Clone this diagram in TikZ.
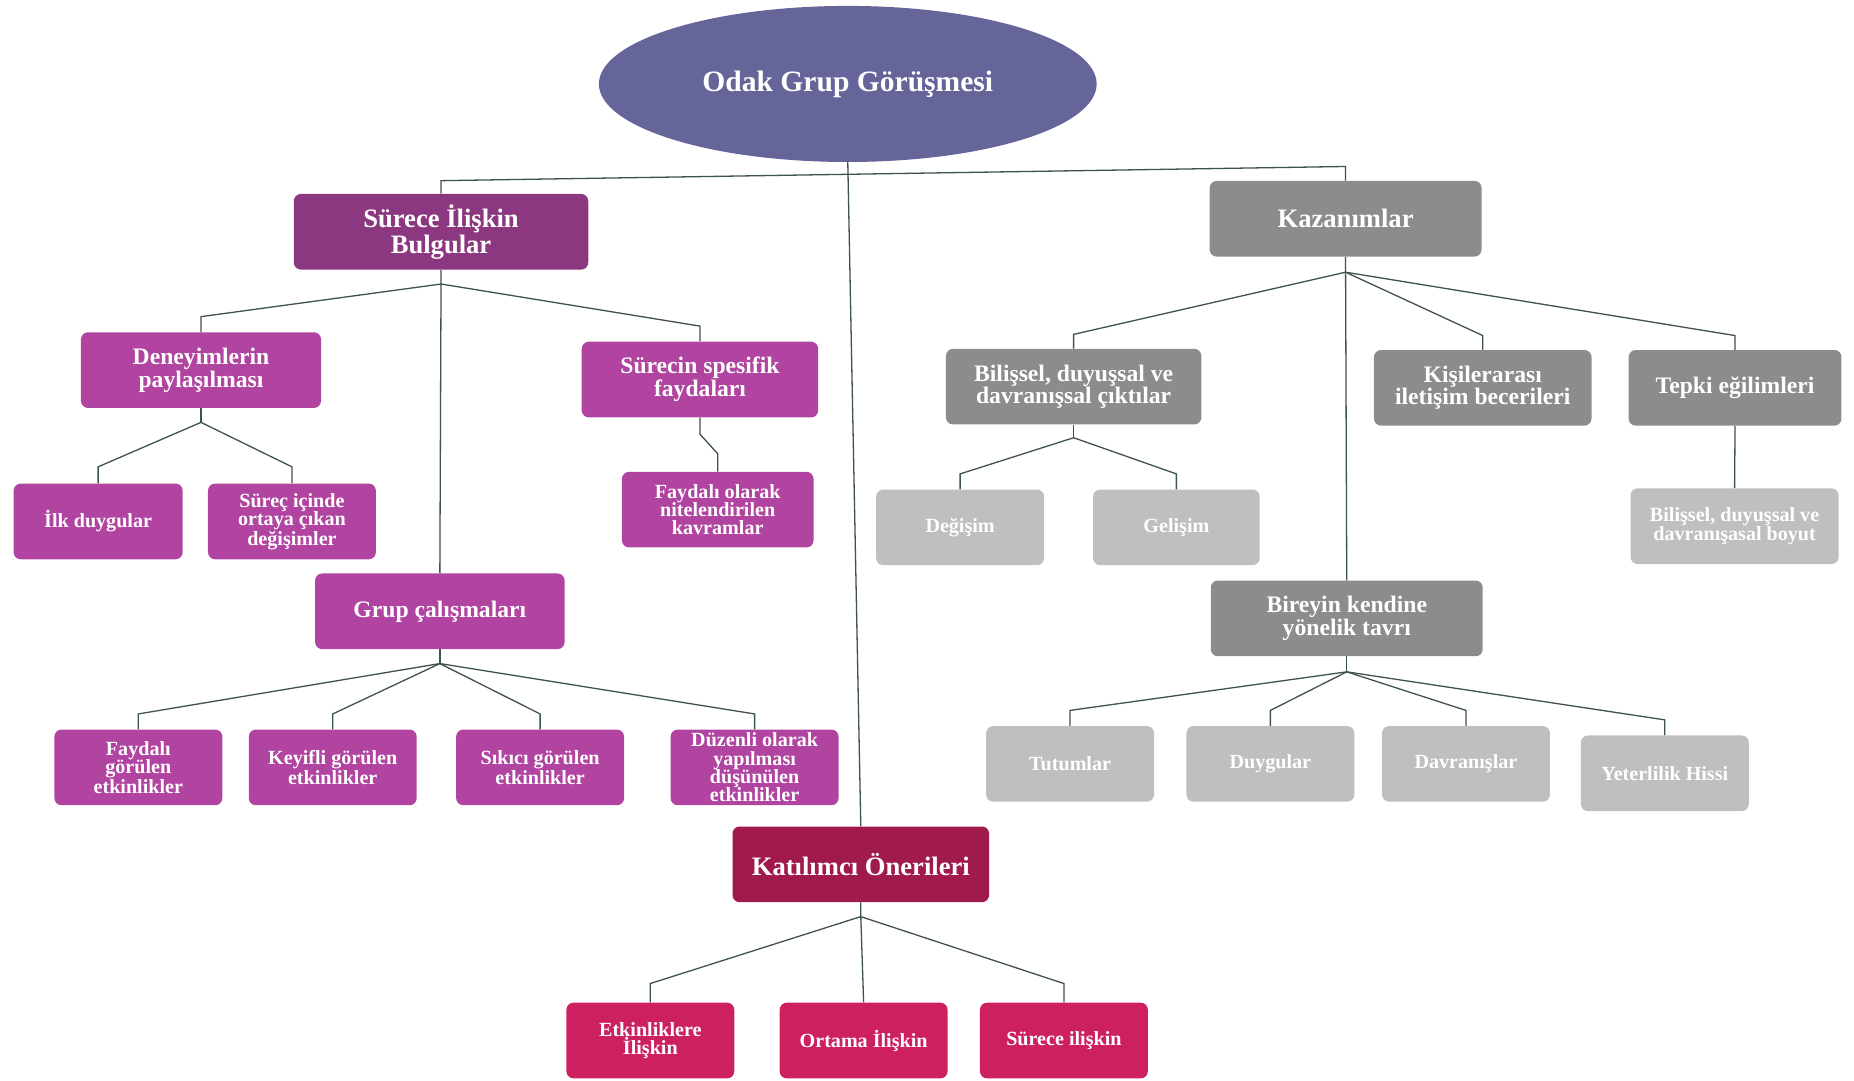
\documentclass[tikz,border=0pt]{standalone}
\usepackage{fontspec}
\setmainfont{Liberation Serif}
\usepackage{xcolor}
\usepackage{tikz}
\usetikzlibrary{positioning, shapes.geometric}
\definecolor{rootcol}{RGB}{101,101,153}
\definecolor{plumdark}{RGB}{140,56,128}
\definecolor{plum}{RGB}{176,68,160}
\definecolor{wine}{RGB}{160,26,76}
\definecolor{rose}{RGB}{204,32,96}
\definecolor{graydark}{RGB}{140,140,140}
\definecolor{graylight}{RGB}{191,191,191}
\definecolor{linkcol}{RGB}{62,82,80}
\tikzset{
    root/.style={ellipse, fill=rootcol, text=white, minimum width=421pt, minimum height=132pt, font=\bfseries\fontsize{25}{28}\selectfont},
    topbox/.style={rectangle, rounded corners=6pt, text=white, align=center, minimum width=230pt, minimum height=64pt, font=\bfseries\fontsize{22.5}{22}\selectfont},
    midbox/.style={rectangle, rounded corners=6pt, text=white, align=center, minimum width=200pt, minimum height=64pt, font=\bfseries\fontsize{20}{18}\selectfont},
    leaf/.style={rectangle, rounded corners=6pt, text=white, align=center, minimum width=142pt, minimum height=64pt, inner sep=2pt, font=\bfseries\fontsize{17}{15.5}\selectfont},
    link/.style={draw=linkcol, line width=1.1pt}
}

\begin{document}
\begin{tikzpicture}[x=1pt, y=1pt]
        \useasboundingbox (0,0) rectangle (1568,-914);

        % Root
        \node[root] (Odak) at (717,-71) {Odak Grup Görüşmesi};

        % First level
        \node[topbox, fill=plumdark, minimum width=249pt] (Surec) at (373,-196) {Sürece İlişkin\\Bulgular};
        \node[topbox, fill=graydark] (Kazan) at (1138,-185) {Kazanımlar};
        \node[topbox, fill=wine, minimum width=217pt] (Katil) at (728,-731) {Katılımcı Önerileri};

        % Sürece İlişkin Bulgular
        \node[midbox, fill=plum, minimum width=203pt] (Deney) at (170,-313) {Deneyimlerin\\paylaşılması};
        \node[midbox, fill=plum] (Spesif) at (592,-321) {Sürecin spesifik\\faydaları};
        \node[leaf, fill=plum, minimum width=143pt] (Ilk) at (83,-441) {İlk duygular};
        \node[leaf, fill=plum, right=21pt of Ilk] (Degis) {Süreç içinde\\ortaya çıkan\\değişimler};
        \node[leaf, fill=plum, minimum width=162pt] (Kavram) at (607,-431) {Faydalı olarak\\nitelendirilen\\kavramlar};
        \node[midbox, fill=plum, minimum width=211pt] (Grup) at (372,-517) {Grup çalışmaları};
        \node[leaf, fill=plum] (Faydali) at (117,-649) {Faydalı\\görülen\\etkinlikler};
        \node[leaf, fill=plum, right=22pt of Faydali] (Keyifli) {Keyifli görülen\\etkinlikler};
        \node[leaf, fill=plum, right=33pt of Keyifli] (Sikici) {Sıkıcı görülen\\etkinlikler};
        \node[leaf, fill=plum, right=39pt of Sikici] (Duzenli) {Düzenli olarak\\yapılması\\düşünülen\\etkinlikler};

        % Katılımcı Önerileri
        \node[leaf, fill=rose] (Etkin) at (550,-880) {Etkinliklere\\İlişkin};
        \node[leaf, fill=rose, right=38pt of Etkin] (Ortam) {Ortama İlişkin};
        \node[leaf, fill=rose, right=27pt of Ortam] (SurecIl) {Sürece ilişkin};

        % Kazanımlar
        \node[midbox, fill=graydark, minimum width=216pt] (Bilis) at (908,-327) {Bilişsel, duyuşsal ve\\davranışsal çıktılar};
        \node[midbox, fill=graydark, minimum width=184pt] (Kisi) at (1254,-328) {Kişilerarası\\iletişim becerileri};
        \node[midbox, fill=graydark, minimum width=180pt, right=31pt of Kisi] (Tepki) {Tepki eğilimleri};
        \node[leaf, fill=graylight] (Degisim) at (812,-446) {Değişim};
        \node[leaf, fill=graylight, minimum width=141pt, right=41pt of Degisim] (Gelisim) {Gelişim};
        \node[leaf, fill=graylight, minimum width=176pt] (Boyut) at (1467,-445) {Bilişsel, duyuşsal ve\\davranışasal boyut};
        \node[midbox, fill=graydark, minimum width=230pt] (Birey) at (1139,-523) {Bireyin kendine\\yönelik tavrı};
        \node[leaf, fill=graylight] (Tutum) at (905,-646) {Tutumlar};
        \node[leaf, fill=graylight, right=27pt of Tutum] (Duygu) {Duygular};
        \node[leaf, fill=graylight, right=23pt of Duygu] (Davran) {Davranışlar};
        \node[leaf, fill=graylight] (Yeter) at (1408,-654) {Yeterlilik Hissi};

        % Junctions
        \coordinate (jSurec) at ([yshift=-12pt]Surec.south);
        \coordinate (jDeney) at ([yshift=-12pt]Deney.south);
        \coordinate (jSpesif) at ([yshift=-14pt]Spesif.south);
        \coordinate (jGrup) at ([yshift=-12pt]Grup.south);
        \coordinate (jKatil) at ([yshift=-12pt]Katil.south);
        \coordinate (jKazan) at ([yshift=-13pt]Kazan.south);
        \coordinate (jBilis) at ([yshift=-11pt]Bilis.south);
        \coordinate (jBirey) at ([yshift=-13pt]Birey.south);

        % Connections
        \draw[link] (Odak.south) -- (Katil.north);
        \draw[link] (Surec.north) -- ++(0,11) -- ([yshift=12pt]Kazan.north) -- (Kazan.north);

        \draw[link] (Surec.south) -- (jSurec) -- (Grup.north);
        \foreach \kid in {Deney, Spesif}
            \draw[link] (jSurec) -- ([yshift=13pt]\kid.north) -- (\kid.north);
        \draw[link] (Deney.south) -- (jDeney);
        \foreach \kid in {Ilk, Degis}
            \draw[link] (jDeney) -- ([yshift=14pt]\kid.north) -- (\kid.north);
        \draw[link] (Spesif.south) -- (jSpesif) -- ([yshift=15pt]Kavram.north) -- (Kavram.north);
        \draw[link] (Grup.south) -- (jGrup);
        \foreach \kid in {Faydali, Keyifli, Sikici, Duzenli}
            \draw[link] (jGrup) -- ([yshift=13pt]\kid.north) -- (\kid.north);

        \draw[link] (Katil.south) -- (jKatil) -- (Ortam.north);
        \foreach \kid in {Etkin, SurecIl}
            \draw[link] (jKatil) -- ([yshift=16pt]\kid.north) -- (\kid.north);

        \draw[link] (Kazan.south) -- (jKazan) -- (Birey.north);
        \foreach \kid in {Bilis, Kisi, Tepki}
            \draw[link] (jKazan) -- ([yshift=12pt]\kid.north) -- (\kid.north);
        \draw[link] (Bilis.south) -- (jBilis);
        \foreach \kid in {Degisim, Gelisim}
            \draw[link] (jBilis) -- ([yshift=13pt]\kid.north) -- (\kid.north);
        \draw[link] (Tepki.south) -- (Boyut.north);
        \draw[link] (Birey.south) -- (jBirey);
        \foreach \kid in {Tutum, Duygu, Davran, Yeter}
            \draw[link] (jBirey) -- ([yshift=13pt]\kid.north) -- (\kid.north);

    \end{tikzpicture}
\end{document}
